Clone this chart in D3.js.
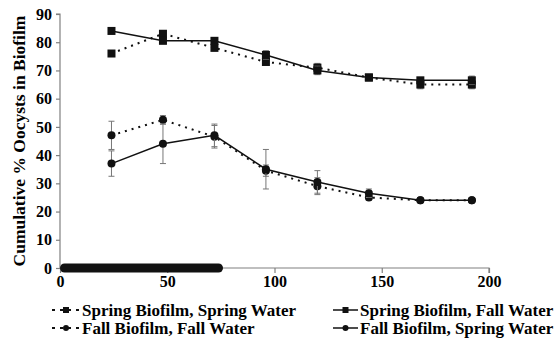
<!DOCTYPE html>
<html><head><meta charset="utf-8">
<script src="https://cdn.jsdelivr.net/npm/d3@7"></script>
<style>body{margin:0;background:#fff}svg{display:block}</style>
</head><body><div id="chart"></div>
<script>
const hours = [24, 48, 72, 96, 120, 144, 168, 192];
const sbswValues = [76, 83, 78, 73, 71, 67.5, 65, 65];
const sbswErr = [1, 1, 1, 1, 1.5, 1, 1.5, 1.5];
const sbfwValues = [84, 80.5, 80.5, 75.5, 70, 67.5, 66.5, 66.5];
const sbfwErr = [1, 1, 1, 1.5, 1.5, 1, 1, 1.5];
const fbfwValues = [47, 52.5, 46.5, 34.5, 29, 25, 24, 24];
const fbfwErr = [5, 1.5, 4, 2, 3, 1, 0.5, 0.5];
const fbswValues = [37, 44, 47, 35, 30.5, 26.5, 24, 24];
const fbswErr = [4.5, 7, 4, 7, 4, 1.5, 0.5, 0.5];
const seriesNames = ["Spring Biofilm, Spring Water", "Spring Biofilm, Fall Water", "Fall Biofilm, Fall Water", "Fall Biofilm, Spring Water"];
const xTicks = [0, 50, 100, 150, 200];
const yTicks = [0, 10, 20, 30, 40, 50, 60, 70, 80, 90];
const exposurePeriod = [0, 76];
const yTitle = "Cumulative % Oocysts in Biofilm";

const series = [
  {name: seriesNames[0], v: sbswValues, e: sbswErr, dashed: true, shape: "square"},
  {name: seriesNames[1], v: sbfwValues, e: sbfwErr, dashed: false, shape: "square"},
  {name: seriesNames[2], v: fbfwValues, e: fbfwErr, dashed: true, shape: "circle"},
  {name: seriesNames[3], v: fbswValues, e: fbswErr, dashed: false, shape: "circle"}
];

const FONT = "Liberation Serif";
const W = 554, H = 344;
const svg = d3.select("#chart").append("svg").attr("width", W).attr("height", H);
const x = d3.scaleLinear().domain([0, 200]).range([60, 489]);
const y = d3.scaleLinear().domain([0, 90]).range([268, 14]);
const axisColor = "#808080";

const gx = svg.append("g").attr("transform", `translate(0,${y(0)})`)
  .call(d3.axisBottom(x).tickValues(xTicks).tickSize(5).tickPadding(3));
const gy = svg.append("g").attr("transform", `translate(${x(0)},0)`)
  .call(d3.axisLeft(y).tickValues(yTicks).tickSize(4).tickPadding(4));
[gx, gy].forEach(g => {
  g.attr("font-family", FONT).attr("font-size", 16).attr("font-weight", "bold");
  g.select(".domain").attr("stroke", axisColor).attr("stroke-width", 1.2);
  g.selectAll(".tick line").attr("stroke", axisColor).attr("stroke-width", 1.2);
  g.selectAll("text").attr("fill", "#000");
});
gx.select(".domain").attr("d", `M${x(0)},0H${x(200)}V5`);
gy.select(".domain").attr("d", `M-4,${y(90)}H0V${y(0)}`);

svg.append("text").attr("transform", `translate(19,${(y(0)+y(90))/2}) rotate(-90)`)
  .attr("text-anchor", "middle").attr("dominant-baseline", "central")
  .attr("font-family", FONT).attr("font-weight", "bold").attr("font-size", 17.5).text(yTitle);

svg.append("line").attr("x1", x(exposurePeriod[0]) + 4.5).attr("x2", x(exposurePeriod[1]) - 4.5)
  .attr("y1", y(0)).attr("y2", y(0)).attr("stroke", "#111").attr("stroke-width", 9).attr("stroke-linecap", "round");

const line = d3.line().x((d, i) => x(hours[i])).y(d => y(d));

function marker(g, shape, cx, cy) {
  if (shape === "square") g.append("rect").attr("x", cx - 4).attr("y", cy - 4).attr("width", 8).attr("height", 8).attr("fill", "#111");
  else g.append("circle").attr("cx", cx).attr("cy", cy).attr("r", 4).attr("fill", "#111");
}

series.forEach(s => {
  const g = svg.append("g");
  s.v.forEach((v, i) => {
    const cx = x(hours[i]);
    const t = y(v + s.e[i]), b = y(v - s.e[i]);
    g.append("line").attr("x1", cx).attr("x2", cx).attr("y1", t).attr("y2", b).attr("stroke", "#777").attr("stroke-width", 1);
    [t, b].forEach(yy => g.append("line").attr("x1", cx - 3).attr("x2", cx + 3).attr("y1", yy).attr("y2", yy).attr("stroke", "#777").attr("stroke-width", 1));
  });
  g.append("path").attr("d", line(s.v)).attr("fill", "none").attr("stroke", "#111")
    .attr("stroke-width", s.dashed ? 2 : 1.5).attr("stroke-dasharray", s.dashed ? "2,5" : null);
  s.v.forEach((v, i) => marker(g, s.shape, x(hours[i]), y(v)));
});

const legendPos = [[52, 310], [333, 310], [52, 328], [333, 328]];
series.forEach((s, i) => {
  const [lx, ly] = legendPos[i];
  const g = svg.append("g");
  const len = s.dashed ? 28 : 25;
  g.append("line").attr("x1", lx).attr("x2", lx + len).attr("y1", ly).attr("y2", ly).attr("stroke", "#111")
    .attr("stroke-width", s.dashed ? 2 : 1.5).attr("stroke-dasharray", s.dashed ? "3,5" : null);
  if (s.shape === "square") g.append("rect").attr("x", lx + len/2 - 3).attr("y", ly - 3).attr("width", 6).attr("height", 6).attr("fill", "#111");
  else g.append("circle").attr("cx", lx + len/2).attr("cy", ly).attr("r", 3).attr("fill", "#111");
  g.append("text").attr("x", lx + len + 2).attr("y", ly).attr("dominant-baseline", "central")
    .attr("font-family", FONT).attr("font-weight", "bold").attr("font-size", 17).text(s.name);
});
</script></body></html>
